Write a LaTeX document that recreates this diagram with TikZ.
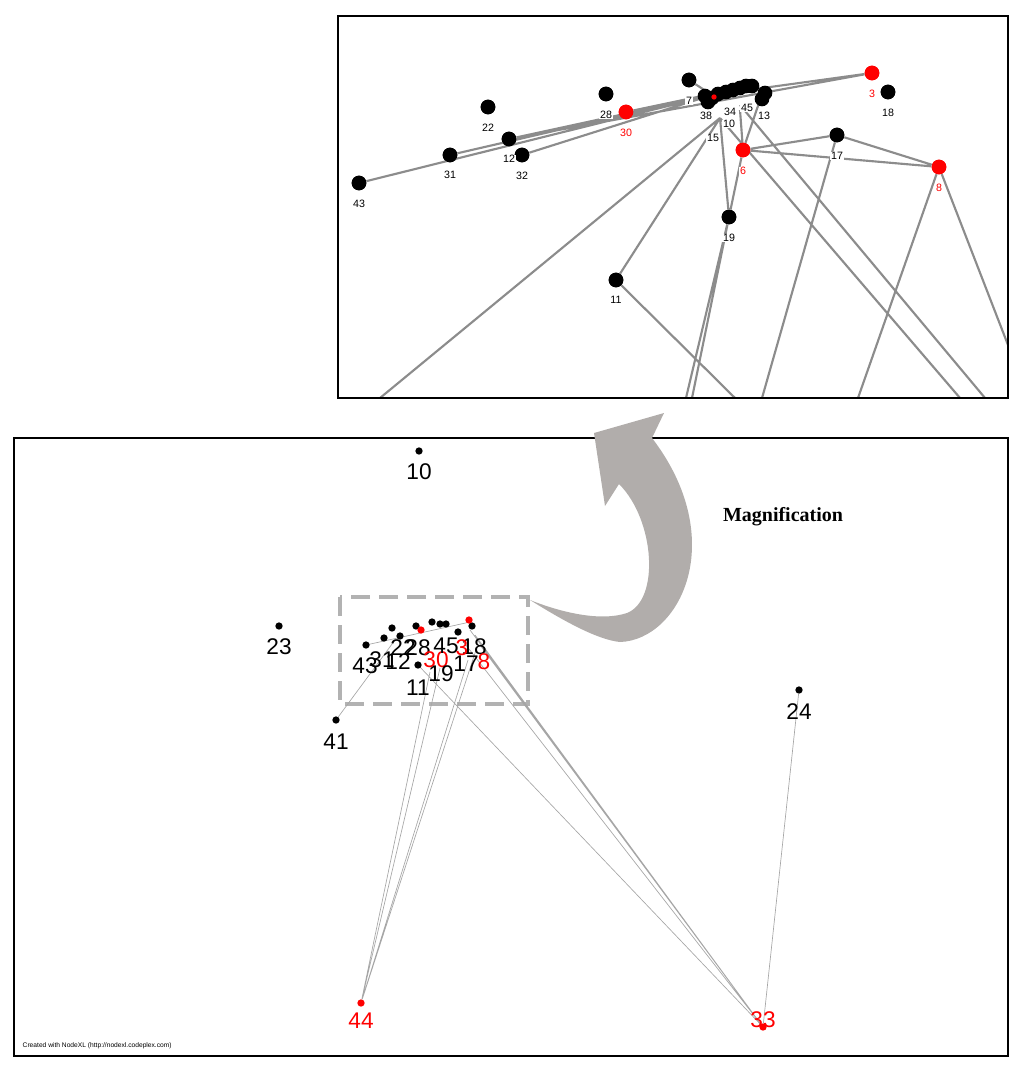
\documentclass[tikz,border=0pt]{standalone}
\usepackage{fontspec}
\setmainfont{Liberation Sans}
\newfontfamily\serif{Liberation Serif}
\definecolor{arrowgray}{HTML}{B1ADAB}
\begin{document}
\begin{tikzpicture}[x=0.75pt,y=-0.75pt,
 n/.style={circle,fill=black,inner sep=0pt,minimum size=11pt},
 r/.style={circle,fill=red,inner sep=0pt,minimum size=11pt},
 sn/.style={circle,fill=black,inner sep=0pt,minimum size=5.5pt},
 sr/.style={circle,fill=red,inner sep=0pt,minimum size=5.5pt},
 e/.style={draw=gray!90,line width=1.6pt},
 se/.style={draw=gray!70,line width=0.5pt},
 lb/.style={font=\fontsize{8}{8}\selectfont,fill=white,inner sep=0.5pt},
 lr/.style={lb,text=red},
 bl/.style={font=\fontsize{17}{17}\selectfont,inner sep=0pt},
 br/.style={bl,text=red}]
\useasboundingbox (0,0) rectangle (1024,1074);
% ---------- inset ----------
\begin{scope}
\clip (338,16) rectangle (1008,398);
\coordinate (c1) at (712,95);
\coordinate (c2) at (740,88);
\coordinate (c3) at (720,118);
\coordinate (o1) at (380,398);\coordinate (o2) at (686,398);\coordinate (o3) at (692,398);
\coordinate (o4) at (735,398);\coordinate (o5) at (762,398);\coordinate (o6) at (858,398);
\coordinate (o7) at (960,398);\coordinate (o8) at (985,398);\coordinate (o9) at (1008,345);
\node[n] (n43) at (359,183) {};\node[n] (n31) at (450,155) {};\node[n] (n12) at (509,139) {};
\node[n] (n32) at (522,155) {};\node[n] (n22) at (488,107) {};\node[n] (n28) at (606,94) {};
\node[r] (n30) at (626,112) {};\node[n] (n7) at (689,80) {};\node[r] (n3) at (872,73) {};
\node[n] (n18) at (888,92) {};\node[n] (n17) at (837,135) {};\node[r] (n6) at (743,150) {};
\node[r] (n8) at (939,167) {};\node[n] (n19) at (729,217) {};\node[n] (n11) at (616,280) {};
\draw[e] (n43)--(c1) (n31)--(c2) (n12)--(n3) (n12)--(c1) (n32)--(c1) (n30)--(c2)
 (c1)--(n3) (n7)--(c1);
\draw[e] (n6)--(n17) (n6)--(n8) (n17)--(n8) (n17)--(o5) (n8)--(o6) (n8)--(o9)
 (c3)--(n11) (n11)--(o4) (n19)--(o2) (n19)--(o3) (n6)--(n19) (c3)--(o1) (c3)--(n19)
 (c3)--(o7) (740,105)--(o8) (760,100)--(n6) (740,110)--(n6);
\foreach \p in {(n43),(n31),(n12),(n32),(n22),(n28),(n7),(n18),(n17),(n19),(n11)}\node[n] at \p {};
\foreach \p in {(n30),(n3),(n6),(n8)}\node[r] at \p {};
\foreach \p/\q in {705/96,712/98,718/94,726/92,733/90,740/88,746/86,752/86,765/93,762/99,708/102}
 \node[n] at (\p,\q) {};
\node[r,minimum size=4pt] at (714,97) {};
\node[lb] at (359,204) {43};\node[lb] at (450,175) {31};\node[lb] at (509,159) {12};
\node[lb] at (522,176) {32};\node[lb] at (488,128) {22};\node[lb] at (606,115) {28};
\node[lr] at (626,133) {30};\node[lb] at (689,101) {7};\node[lr] at (872,94) {3};
\node[lb] at (888,113) {18};\node[lb] at (837,156) {17};\node[lr] at (743,171) {6};
\node[lr] at (939,188) {8};\node[lb] at (729,238) {19};\node[lb] at (616,300) {11};
\node[lb] at (706,116) {38};\node[lb] at (730,112) {34};\node[lb] at (747,108) {45};
\node[lb] at (764,116) {13};\node[lb] at (713,138) {15};\node[lb] at (729,124) {10};
\end{scope}
\draw[line width=2pt] (338,16) rectangle (1008,398);
% ---------- main ----------
\draw[line width=2pt] (14,438) rectangle (1008,1056);
\draw[gray!60,line width=2.5pt,dash pattern=on 14pt off 7pt] (340,597) rectangle (528,704);
\coordinate (a1) at (395,640);\coordinate (a2) at (430,672);\coordinate (a3) at (440,668);
\coordinate (a4) at (468,660);\coordinate (a5) at (476,650);\coordinate (a6) at (470,630);
\coordinate (a7) at (480,645);\coordinate (a8) at (418,665);\coordinate (a9) at (462,640);
\node[sn] (b10) at (419,451) {};\node[sn] (b23) at (279,626) {};\node[sn] (b41) at (336,720) {};
\node[sn] (b24) at (799,690) {};\node[sr] (b44) at (361,1003) {};\node[sr] (b33) at (763,1027) {};
\draw[se] (b41)--(a1) (b44)--(a2) (b44)--(a3) (b44)--(a4) (b44)--(a5)
 (b33)--(a6) (b33)--(a7) (b33)--(a8) (b33)--(a9) (b33)--(b24) (b33)--(475,635);
\draw[se] (366,645)--(470,622);
\foreach \p/\q in {366/645,384/638,392/628,400/636,416/626,432/622,440/624,446/624,458/632,472/626,418/665}
 \node[sn] at (\p,\q) {};
\node[sr] at (469,620) {};\node[sr] at (421,630) {};
\node[bl] at (419,472) {10};\node[bl] at (279,647) {23};\node[bl] at (336,742) {41};
\node[bl] at (799,712) {24};\node[br] at (361,1021) {44};\node[br] at (763,1020) {33};
\node[bl] at (365,666) {43};\node[bl] at (382,660) {31};\node[bl] at (398,662) {12};
\node[bl] at (403,648) {22};\node[bl] at (418,648) {28};\node[br] at (436,660) {30};
\node[bl] at (446,646) {45};\node[bl] at (474,647) {18};\node[br] at (484,662) {8};
\node[bl] at (466,664) {17};\node[bl] at (441,674) {19};\node[bl] at (418,688) {11};
\node[br] at (462,648) {3};
\node[font=\fontsize{5}{5}\selectfont,anchor=west] at (18,1046) {Created with NodeXL (http://nodexl.codeplex.com)};
% ---------- arrow ----------
\fill[arrowgray] (530,600) .. controls (570,625) and (600,640) .. (620,642)
 .. controls (680,640) and (730,540) .. (652,438)
 -- (664,413) -- (594,433) -- (605,506) -- (619,484)
 .. controls (655,520) and (660,600) .. (627,613)
 .. controls (600,622) and (560,612) .. (530,600) -- cycle;
\node[font=\serif\bfseries\fontsize{15}{15}\selectfont] at (783,517) {Magnification};
\end{tikzpicture}
\end{document}
